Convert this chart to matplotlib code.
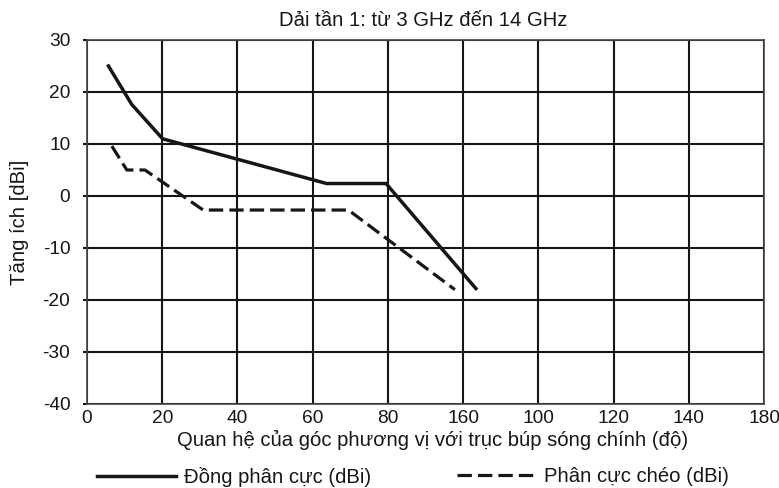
import matplotlib
matplotlib.use("Agg")
import matplotlib.pyplot as plt

# Gain pattern vs. azimuth relative to main-beam axis (band 1: 3-14 GHz)
co_pol_angle = [5.7, 11.9, 20.1, 63.7, 79.5, 103.4]
co_pol_gain = [25.0, 17.6, 11.0, 2.4, 2.4, -17.8]

cross_pol_angle = [6.6, 10.6, 15.4, 30.9, 69.5, 97.8]
cross_pol_gain = [9.6, 5.0, 5.0, -2.7, -2.7, -18.0]

x_ticks = [0, 20, 40, 60, 80, 100, 120, 140, 160, 180]
x_tick_labels = ["0", "20", "40", "60", "80", "160", "100", "120", "140", "180"]
y_ticks = [-40, -30, -20, -10, 0, 10, 20, 30]

title = "Dải tần 1: từ 3 GHz đến 14 GHz"
x_label = "Quan hệ của góc phương vị với trục búp sóng chính (độ)"
y_label = "Tăng ích [dBi]"
series_labels = ["Đồng phân cực (dBi)", "Phân cực chéo (dBi)"]

plt.rcParams["font.family"] = ["Liberation Sans", "DejaVu Sans"]
plt.rcParams["axes.unicode_minus"] = False
ink = "#161616"
fs = 14.6
tick_fs = 13.8

W, H = 779, 488
fig = plt.figure(figsize=(W / 100, H / 100), dpi=100)
ax = fig.add_axes([87 / W, (H - 404) / H, 677 / W, 364 / H])

ax.set_xlim(0, 180)
ax.set_ylim(-40, 30)
ax.set_xticks(x_ticks)
ax.set_xticklabels(x_tick_labels)
ax.set_yticks(y_ticks)
ax.grid(True, color=ink, linewidth=1.5)
ax.set_axisbelow(True)
for side in ax.spines.values():
    side.set_color("#444444")
    side.set_linewidth(1.2)

ax.tick_params(axis="x", length=0, pad=4, labelsize=tick_fs, colors=ink)
ax.tick_params(axis="y", length=3, width=1.5, pad=9, labelsize=tick_fs, colors=ink)

dash = (0, (4.5, 1.9))
co_line, = ax.plot(co_pol_angle, co_pol_gain, color=ink, linewidth=2.5,
                   solid_joinstyle="miter", label=series_labels[0])
cross_line, = ax.plot(cross_pol_angle, cross_pol_gain, color=ink, linewidth=2.3,
                      linestyle=dash, label=series_labels[1])

fig.text(423 / W, 1 - 20 / H, title, ha="center", va="center",
         fontsize=fs, color=ink)
fig.text(433 / W, 1 - 440 / H, x_label, ha="center", va="center",
         fontsize=fs, color=ink)
fig.text(20 / W, 1 - 222 / H, y_label, ha="center", va="center",
         rotation=90, fontsize=fs, color=ink)

# Two legend entries, each placed on its own
for handle, x0 in ((co_line, 97), (cross_line, 457)):
    leg = fig.legend(handles=[handle], loc="center left",
                     bbox_to_anchor=(x0 / W, 1 - 477 / H), frameon=False,
                     fontsize=fs, handlelength=3.9, handletextpad=0.38,
                     borderaxespad=0, borderpad=0)
    for t in leg.get_texts():
        t.set_color(ink)

fig.savefig("out.png", dpi=100)
